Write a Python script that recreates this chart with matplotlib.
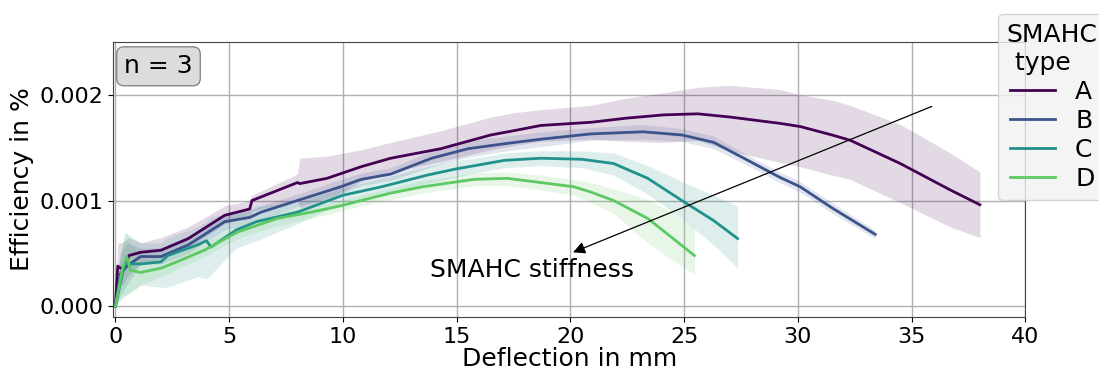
import numpy as np
import matplotlib
matplotlib.use("Agg")
import matplotlib.pyplot as plt
from matplotlib.ticker import FormatStrFormatter

plt.rcParams['font.family'] = ['DejaVu Sans']
plt.rcParams['font.size'] = 18
plt.rcParams['xtick.labelsize'] = 16
plt.rcParams['ytick.labelsize'] = 16

# ---- data (deflection in mm, efficiency in %) ----
types = ['A', 'B', 'C', 'D']
colors = ['#440154', '#3b528b', '#21918c', '#5ec962']

x_a = [0, 0.1, 0.3, 0.6, 1.1, 2.0, 3.2, 4.8, 5.9, 6.0, 8.0, 8.1, 9.3, 10.8, 12.1, 14.3, 16.5,
       17.5, 18.7, 20.9, 22.5, 24.1, 25.6, 27.0, 29.2, 30.1, 31.5, 32.3, 34.5, 36.7, 38.0]
mean_a = [0.00002, 0.00038, 0.00035, 0.00048, 0.00051, 0.00053, 0.00064, 0.00086, 0.00092, 0.0010,
          0.00117, 0.00116, 0.00121, 0.00132, 0.00140, 0.00149, 0.00162, 0.00166, 0.00171, 0.00174,
          0.00178, 0.00181, 0.00182, 0.00179, 0.00173, 0.00170, 0.00162, 0.00157, 0.00135, 0.00110, 0.00096]
hi_a = [0.0001, 0.0006, 0.0006, 0.00065, 0.0006, 0.00065, 0.00075, 0.00095, 0.0010, 0.00105,
        0.00125, 0.0014, 0.00142, 0.00148, 0.00155, 0.00166, 0.00179, 0.00183, 0.00186, 0.0019,
        0.00197, 0.00202, 0.00207, 0.00209, 0.00205, 0.0020, 0.00195, 0.0019, 0.00172, 0.00145, 0.00127]
lo_a = [0.0, 0.0002, 0.0002, 0.0003, 0.0004, 0.00045, 0.00055, 0.00078, 0.00085, 0.0009,
        0.0010, 0.00093, 0.0010, 0.00118, 0.00127, 0.00137, 0.00148, 0.00152, 0.00156, 0.00158,
        0.00156, 0.00155, 0.00157, 0.00147, 0.00136, 0.00132, 0.00124, 0.0012, 0.00098, 0.00075, 0.00065]

x_b = [0, 0.2, 0.5, 1.1, 2.0, 3.2, 4.8, 5.9, 6.4, 8.0, 9.9, 10.8, 12.1, 13.9, 15.5, 17.2, 18.7,
       20.9, 23.2, 24.9, 26.3, 27.8, 29.2, 30.1, 31.5, 33.4]
mean_b = [0.0, 0.0003, 0.00038, 0.00047, 0.00047, 0.00058, 0.0008, 0.00084, 0.00089, 0.0010, 0.00113,
          0.0012, 0.00125, 0.0014, 0.00149, 0.00154, 0.00158, 0.00163, 0.00165, 0.00162, 0.00155,
          0.00138, 0.00122, 0.00113, 0.00093, 0.00068]
hi_b = [0.00005, 0.0005, 0.0006, 0.00055, 0.00055, 0.00065, 0.00088, 0.0009, 0.00095, 0.00106, 0.0012,
        0.00126, 0.00131, 0.00147, 0.00157, 0.00161, 0.00165, 0.00169, 0.00172, 0.00168, 0.00161,
        0.00143, 0.00127, 0.00118, 0.00098, 0.00072]
lo_b = [0.0, 0.0001, 0.0002, 0.0004, 0.0004, 0.0005, 0.00072, 0.00078, 0.00083, 0.00094, 0.00106,
        0.00114, 0.00119, 0.00132, 0.00141, 0.00147, 0.00151, 0.00157, 0.00158, 0.00156, 0.00149,
        0.00133, 0.00117, 0.00108, 0.00088, 0.00064]

x_c = [0, 0.4, 1.1, 2.0, 2.3, 3.6, 4.0, 4.2, 5.3, 6.2, 8.0, 10.0, 11.7, 13.7, 15.0, 15.8, 17.1,
       18.7, 20.5, 21.9, 23.4, 24.9, 26.3, 27.35]
mean_c = [0.0, 0.0004, 0.0004, 0.00042, 0.00048, 0.00058, 0.00062, 0.00056, 0.00072, 0.0008, 0.00089,
          0.00105, 0.00113, 0.00124, 0.0013, 0.00133, 0.00138, 0.0014, 0.00139, 0.00135, 0.00121,
          0.0010, 0.00081, 0.00064]
hi_c = [0.0002, 0.0007, 0.0006, 0.0006, 0.00065, 0.00075, 0.0008, 0.00085, 0.00088, 0.00095, 0.00098,
        0.00112, 0.00121, 0.00132, 0.00138, 0.0014, 0.00145, 0.00147, 0.00147, 0.00145, 0.00133,
        0.00118, 0.00105, 0.00095]
lo_c = [0.0, 0.0001, 0.0002, 0.00018, 0.00018, 0.00028, 0.00026, 0.0003, 0.00055, 0.00062, 0.00078,
        0.00098, 0.00105, 0.00116, 0.00122, 0.00126, 0.00131, 0.00133, 0.00131, 0.00124, 0.00106,
        0.00083, 0.00058, 0.00036]

x_d = [0, 0.3, 0.5, 0.66, 1.1, 2.0, 2.7, 3.9, 5.35, 7.1, 8.6, 9.9, 10.8, 12.1, 13.5, 15.75, 17.2,
       18.7, 20.15, 20.9, 21.9, 23.4, 24.4, 25.45]
mean_d = [0.0, 0.00035, 0.00047, 0.00034, 0.00032, 0.00036, 0.00042, 0.00053, 0.0007, 0.00083, 0.00089,
          0.00095, 0.0010, 0.00107, 0.00113, 0.0012, 0.00121, 0.00117, 0.00113, 0.00108, 0.0010,
          0.00083, 0.00066, 0.00048]
hi_d = [0.0002, 0.0006, 0.0007, 0.0006, 0.00045, 0.00045, 0.0005, 0.0006, 0.00076, 0.00089, 0.00095,
        0.0010, 0.00105, 0.00112, 0.00119, 0.00126, 0.00127, 0.00124, 0.0012, 0.00117, 0.00111,
        0.00101, 0.0009, 0.00075]
lo_d = [0.0, 0.0001, 0.0001, 0.00012, 0.0002, 0.00028, 0.00035, 0.00047, 0.00064, 0.00076, 0.00083,
        0.0009, 0.00095, 0.00101, 0.00107, 0.00114, 0.00114, 0.0011, 0.00105, 0.00098, 0.00088,
        0.0006, 0.00045, 0.0003]

series = [(x_a, mean_a, lo_a, hi_a), (x_b, mean_b, lo_b, hi_b),
          (x_c, mean_c, lo_c, hi_c), (x_d, mean_d, lo_d, hi_d)]

# ---- plot ----
fig = plt.figure(figsize=(10.99, 3.71), dpi=100)
ax = fig.add_axes([0.103, 0.146, 0.830, 0.741])

for (x, m, lo, hi), name, col in zip(series, types, colors):
    ax.fill_between(x, lo, hi, color=col, alpha=0.15, linewidth=0)
    ax.plot(x, m, color=col, linewidth=2, label=name)

ax.set_xlim(-0.1, 40)
ax.set_ylim(-0.0001, 0.0025)
ax.set_xticks(range(0, 41, 5))
ax.set_yticks([0.0, 0.001, 0.002])
ax.yaxis.set_major_formatter(FormatStrFormatter('%.3f'))
ax.grid(True, color='#b0b0b0', linewidth=1)
ax.set_axisbelow(True)
for s in ax.spines.values():
    s.set_color('#444444')
ax.set_xlabel('Deflection in mm', labelpad=0)
ax.set_ylabel('Efficiency in %', labelpad=4)

ax.text(0.012, 0.955, 'n = 3', transform=ax.transAxes, va='top', ha='left',
        bbox=dict(boxstyle='round,pad=0.3', fc='#dcdcdc', ec='#888888'))

ax.annotate('', xy=(20, 0.0005), xytext=(36, 0.0019),
            arrowprops=dict(arrowstyle='-|>', color='black', lw=0.9, mutation_scale=18))
ax.text(18.3, 0.00034, 'SMAHC stiffness', ha='center', va='center')

leg = ax.legend(title='SMAHC\n type', loc='upper left', bbox_to_anchor=(0.97, 1.10),
                borderaxespad=0, framealpha=0.8, facecolor='#f2f2f2', edgecolor='#cccccc',
                labelspacing=0.2, handlelength=1.8, borderpad=0.35)
leg.get_title().set_ha('left')

fig.savefig('out.png', dpi=100)
